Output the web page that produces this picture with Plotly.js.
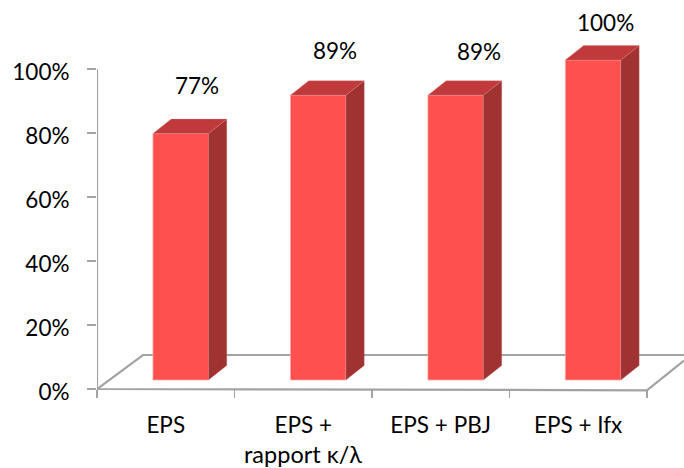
<!DOCTYPE html>
<html>
<head>
<meta charset="utf-8">
<script src="https://cdn.plot.ly/plotly-3.0.1.min.js"></script>
<style>html,body{margin:0;padding:0;background:#fff}#c{width:684px;height:468px}</style>
</head>
<body>
<div id="c"></div>
<script>
const categories = ["EPS", "EPS +", "EPS + PBJ", "EPS + Ifx"];
const secondLines = ["", "rapport κ/λ", "", ""];
const values = [77, 89, 89, 100];
const valueLabels = ["77%", "89%", "89%", "100%"];
const labelShiftX = [16, 17, 23, 12];
const labelShiftY = [48, 45, 44, 38];
const yTicks = [0, 20, 40, 60, 80, 100];
const yTickText = ["0%", "20%", "40%", "60%", "80%", "100%"];

const FRONT = "#ff5050", SIDE = "#a03232", TOP = "#c03a3c", GRID = "#a3a3a3";
const PXX = 137.6, PXY = 3.2;
const XMAX = 3.77, YMIN = -5, YMAX = 69 / PXY + 100;
const axisPos = -YMIN / (YMAX - YMIN);
const barShift = 15 / PXX, barW = 55.6 / PXX, barBase = 9 / PXY;
const dx = 18.3 / PXX, dy = 14.5 / PXY;
const idx = categories.map((_, i) => i);
const xc = idx.map(i => i + barShift);

const floor = {
  type: "scatter", mode: "lines", xaxis: "x", yaxis: "y", cliponaxis: false, hoverinfo: "skip",
  line: {color: GRID, width: 2.2},
  x: [-0.5, -0.5, 3.5, null, -0.5, -0.5 + 46 / PXX, XMAX, null, 3.5, XMAX],
  y: [100, 0, -0.4, null, 0, 34 / PXY, 34 / PXY, null, -0.4, 28.5 / PXY]
};

const bars = {
  type: "bar", xaxis: "x2", yaxis: "y2", cliponaxis: false, hoverinfo: "skip",
  x: xc, y: values, base: barBase, width: barW,
  marker: {color: FRONT, line: {color: "rgba(255,170,170,0.7)", width: 1}}
};

const sides = idx.map(i => {
  const r = xc[i] + barW / 2, t = barBase + values[i];
  return {type: "scatter", mode: "lines", xaxis: "x2", yaxis: "y2", fill: "toself", cliponaxis: false,
    hoverinfo: "skip", fillcolor: SIDE, line: {width: 0.6, color: "rgba(200,120,120,0.5)"},
    x: [r, r + dx, r + dx, r, r], y: [barBase, barBase + dy, t + dy, t, barBase]};
});
const tops = idx.map(i => {
  const l = xc[i] - barW / 2, r = xc[i] + barW / 2, t = barBase + values[i];
  return {type: "scatter", mode: "lines", xaxis: "x2", yaxis: "y2", fill: "toself", cliponaxis: false,
    hoverinfo: "skip", fillcolor: TOP, line: {width: 0.6, color: "rgba(220,130,130,0.5)"},
    x: [l, r, r + dx, l + dx, l], y: [t, t, t + dy, t + dy, t]};
});

const font = {family: "Lato, sans-serif", color: "#000"};
const annotations = idx.map(i => ({
  x: xc[i], y: barBase + values[i], xref: "x2", yref: "y2", text: valueLabels[i],
  showarrow: false, xshift: labelShiftX[i], yshift: labelShiftY[i], font: {...font, size: 22.5}
})).concat(idx.filter(i => secondLines[i]).map(i => ({
  x: i, y: 0, xref: "x", yref: "y", yshift: -65, text: secondLines[i], showarrow: false,
  font: {...font, size: 23.5}
})));

const layout = {
  width: 684, height: 468, showlegend: false, paper_bgcolor: "rgba(0,0,0,0)", plot_bgcolor: "rgba(0,0,0,0)",
  margin: {l: 97, r: 0, t: 0, b: 63, pad: 0},
  xaxis: {range: [-0.5, XMAX], anchor: "free", position: axisPos, tickmode: "array", tickvals: [-0.5, 0.5, 1.5, 2.5, 3.5], ticktext: ["", "", "", "", ""],
    ticks: "outside", ticklen: 8, tickcolor: GRID, tickwidth: 1.5, showgrid: false, zeroline: false, showline: false, fixedrange: true},
  xaxis2: {range: [-0.5, XMAX], overlaying: "x", anchor: "free", position: axisPos, side: "bottom", tickmode: "array", tickvals: idx, ticktext: categories,
    ticks: "", showgrid: false, zeroline: false, showline: false, ticklabelstandoff: 20, tickfont: {...font, size: 22.5}, fixedrange: true},
  yaxis: {range: [YMIN, YMAX], tickmode: "array", tickvals: yTicks, ticktext: yTickText, ticks: "outside", ticklen: 9,
    tickcolor: GRID, tickwidth: 1.5, showgrid: false, zeroline: false, showline: false,
    tickfont: {...font, size: 22.5}, ticklabelstandoff: 13, ticklabelshift: 3, fixedrange: true},
  yaxis2: {range: [YMIN, YMAX], overlaying: "y", anchor: "x", visible: false, fixedrange: true},
  annotations
};

Plotly.newPlot("c", [floor, bars, ...sides, ...tops], layout, {displayModeBar: false, staticPlot: true});
</script>
</body>
</html>
